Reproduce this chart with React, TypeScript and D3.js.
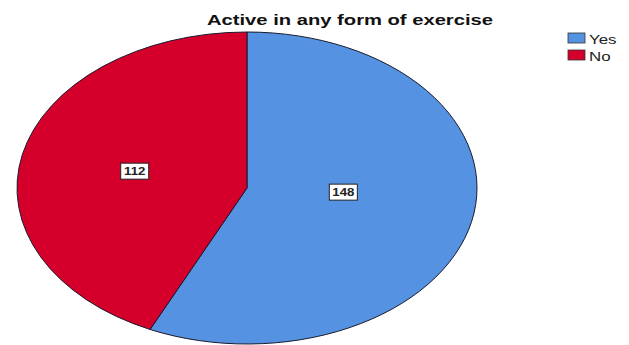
import React from "react";
import * as d3 from "d3";

const categories = ["Yes", "No"];
const values = [148, 112];
const colors = ["#5593E2", "#D4002B"];
const title = "Active in any form of exercise";

export default function App() {
  const W = 629, H = 345;
  const cx = 247, cy = 188, rx = 230, ry = 156;
  const r = 100;
  const pie = d3.pie<number>().sort(null).value((d) => d)(values);
  const arc = d3.arc<d3.PieArcDatum<number>>().innerRadius(0).outerRadius(r);
  const labelFrac = [0.42, 0.5];
  return (
    <svg width={W} height={H} style={{ position: "absolute", left: 0, top: 0, fontFamily: "Liberation Sans, Arial, sans-serif" }}>
      <rect width={W} height={H} fill="#fff" />
      <text x={350} y={25} textAnchor="middle" fontSize={15} fontWeight="bold" fill="#111" textLength={286} lengthAdjust="spacingAndGlyphs">{title}</text>
      <g transform={`translate(${cx},${cy}) scale(${rx / r},${ry / r})`}>
        {pie.map((p, i) => (
          <path key={i} d={arc(p) || ""} fill={colors[i]} stroke="#1a1a2e" strokeWidth={1} vectorEffect="non-scaling-stroke" />
        ))}
      </g>
      {pie.map((p, i) => {
        const a = (p.startAngle + p.endAngle) / 2;
        const x = cx + Math.sin(a) * rx * labelFrac[i] + (i === 0 ? 2 : 0);
        const y = cy - Math.cos(a) * ry * labelFrac[i] - (i === 0 ? 10 : 0);
        return (
          <g key={i} transform={`translate(${x},${y})`}>
            <rect x={-14} y={-8} width={28} height={16} fill="#fff" stroke="#222" strokeWidth={1} />
            <g transform="scale(1.2,1)">
              <text x={0} y={4} textAnchor="middle" fontSize={11} fontWeight="bold" fill="#222">{values[i]}</text>
            </g>
          </g>
        );
      })}
      {categories.map((c, i) => (
        <g key={c} transform={`translate(568,${33 + i * 17})`}>
          <rect x={0} y={0} width={17} height={10} fill={colors[i]} stroke="#333" strokeWidth={0.8} />
          <g transform="translate(21,0) scale(1.35,1)">
            <text x={0} y={10.5} fontSize={12.5} fill="#222">{c}</text>
          </g>
        </g>
      ))}
    </svg>
  );
}
